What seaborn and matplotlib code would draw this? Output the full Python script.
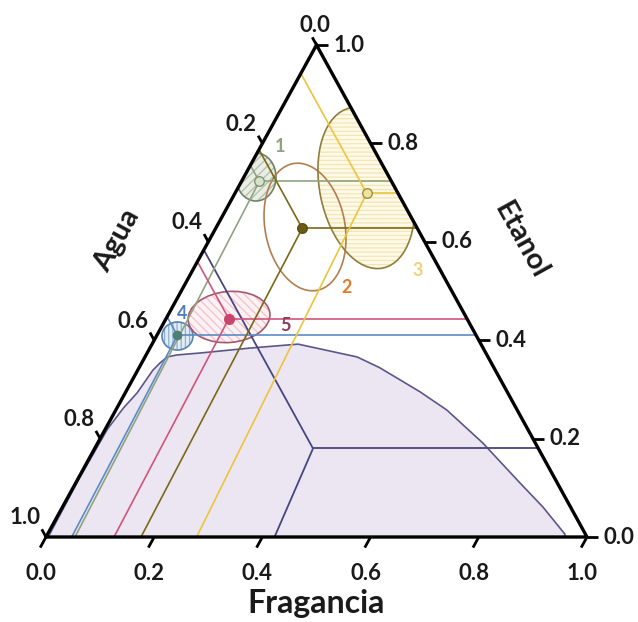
import numpy as np
import pandas as pd
import matplotlib
matplotlib.use("Agg")
import matplotlib.pyplot as plt
import seaborn as sns
from matplotlib.patches import Ellipse, Polygon

# ---------------- data (ternary compositions: F = Fragancia, E = Etanol, W = Agua = 1-F-E)
binodal_F = [0.004, 0.002, 0.004, 0.012, 0.022, 0.028, 0.034, 0.041, 0.057, 0.098,
             0.185, 0.270, 0.392, 0.445, 0.544, 0.612, 0.712, 0.821, 0.888, 0.956, 0.959]
binodal_E = [0.000, 0.120, 0.220, 0.262, 0.293, 0.339, 0.354, 0.366, 0.370, 0.374,
             0.384, 0.392, 0.366, 0.344, 0.295, 0.258, 0.191, 0.110, 0.061, 0.006, 0.000]

point_names = ["1", "2", "3", "4", "5"]
point_F = [0.033, 0.160, 0.2435, 0.038, 0.116]
point_E = [0.7226, 0.6274, 0.6986, 0.4096, 0.4437]
point_F_reading = [0.0536, 0.1756, 0.2784, 0.0475, 0.1257]   # where the Fragancia guide meets the base

tie_F = 0.4036
tie_E = 0.1799
tie_F_reading = 0.4224

ell_F = [0.0223, 0.1637, 0.2377, 0.0388, 0.1147]
ell_E = [0.7317, 0.6301, 0.7093, 0.4085, 0.4472]
ell_w = [0.074, 0.1475, 0.1723, 0.0573, 0.1516]
ell_h = [0.0887, 0.2384, 0.302, 0.0518, 0.0943]
ell_angle = [0, 10.7, 11.6, 0, 5]

label_F = [0.0352, 0.3024, 0.4173, 0.0248, 0.2274]
label_E = [0.7947, 0.508, 0.5407, 0.4533, 0.4289]

tick_values = [0.0, 0.2, 0.4, 0.6, 0.8, 1.0]
tick_labels = ["0.0", "0.2", "0.4", "0.6", "0.8", "1.0"]

# ---------------- styles
line_colors = ["#8fa37f", "#7a6818", "#ebc53c", "#5b8bc6", "#d2537c"]
marker_face = ["#d8e1cd", "#6b5a14", "#efe3a0", "#4f7f74", "#c9456b"]
marker_edge = ["#7f956f", "#5e500f", "#9f8e3b", "#4f7f74", "#c9456b"]
ell_face = ["#e9ede4", "none", "#fdfaec", "#e3ebf3", "#fcf1f3"]
ell_hatchc = ["#b3bea8", None, "#f4e6ae", "#8fb0d2", "#f3c2cb"]
ell_hatch = ["////", None, "----", "||||", "\\\\\\\\"]
ell_edge = ["#6f8263", "#b27e50", "#8e7e3a", "#5583b5", "#a3596d"]
label_colors = ["#8fa37f", "#e07a2a", "#f0d27a", "#4f7fbf", "#8b3c5c"]
tie_color = "#48457f"

sns.set_theme(style="white")
plt.rcParams['font.family'] = ['Lato', 'DejaVu Sans']
plt.rcParams['hatch.linewidth'] = 0.9

K = 492 / 541  # vertical scale of the (slightly stretched) triangle


def tx(F, E):
    return np.asarray(F, dtype=float) + np.asarray(E, dtype=float) / 2


def ty(E):
    return np.asarray(E, dtype=float) * K


fig = plt.figure(figsize=(6.38, 6.22), dpi=100)
ax = fig.add_axes([46 / 638, 85 / 622, 541 / 638, 492 / 622])
ax.set_xlim(0, 1)
ax.set_ylim(0, K)
ax.axis('off')

tri = Polygon([[0, 0], [1, 0], [0.5, K]], closed=True, transform=ax.transData,
              facecolor='none', edgecolor='none')
ax.add_patch(tri)

# binodal region
bx = tx(binodal_F, binodal_E)
by = ty(binodal_E)
ax.fill(bx, by, color="#ebe6f2", zorder=1, lw=0)
bdf = pd.DataFrame({"x": bx, "y": by})
sns.lineplot(data=bdf, x="x", y="y", sort=False, estimator=None, color="#5d5689",
             lw=1.2, ax=ax, zorder=2)

# ellipses
for i in range(5):
    cx = tx(ell_F[i], ell_E[i])
    cy = ty(ell_E[i])
    if ell_hatch[i] is not None:
        e1 = Ellipse((cx, cy), ell_w[i], ell_h[i], angle=ell_angle[i], facecolor=ell_face[i],
                     edgecolor=ell_hatchc[i], hatch=ell_hatch[i], lw=0, zorder=2.2)
        ax.add_patch(e1)
        e1.set_clip_path(tri)
    e2 = Ellipse((cx, cy), ell_w[i], ell_h[i], angle=ell_angle[i], facecolor='none',
                 edgecolor=ell_edge[i], lw=1.2, zorder=2.4)
    ax.add_patch(e2)
    e2.set_clip_path(tri)


def guides(F, E, Fread, color, lw=1.2, z=3):
    # Fragancia guide to base
    ax.plot([tx(F, E), tx(Fread, 0)], [ty(E), 0], color=color, lw=lw, zorder=z,
            solid_capstyle='butt')
    # Etanol guide to right side
    ax.plot([tx(F, E), tx(1 - E, E)], [ty(E), ty(E)], color=color, lw=lw, zorder=z,
            solid_capstyle='butt')
    # Agua guide to left side
    ax.plot([tx(F, E), tx(0, F + E)], [ty(E), ty(F + E)], color=color, lw=lw, zorder=z,
            solid_capstyle='butt')


guides(tie_F, tie_E, tie_F_reading, tie_color, lw=1.3)
order = [3, 0, 4, 1, 2]
for i in order:
    guides(point_F[i], point_E[i], point_F_reading[i], line_colors[i])

pdf = pd.DataFrame({"x": tx(point_F, point_E), "y": ty(point_E), "name": point_names})
for i in range(5):
    sns.scatterplot(data=pdf.iloc[[i]], x="x", y="y", s=48 if i != 3 else 36,
                    color=marker_face[i], edgecolor=marker_edge[i], linewidth=1.0,
                    ax=ax, zorder=5, legend=False)
    ax.text(tx(label_F[i], label_E[i]), ty(label_E[i]), point_names[i], color=label_colors[i],
            fontsize=13, fontweight='bold', ha='center', va='center', zorder=6)

# triangle frame
ax.plot([0, 1, 0.5, 0], [0, 0, K, 0], color='black', lw=2.4, zorder=7, clip_on=False,
        solid_joinstyle='miter')

# ticks
L = 11 / 541
dl = np.array([-0.5, -K]) / np.hypot(0.5, K)   # outward along constant-F direction
dw = np.array([-0.5, K]) / np.hypot(0.5, K)    # outward along constant-W direction
tick_kw = dict(color='black', lw=2.0, zorder=7, clip_on=False, solid_capstyle='butt')
lab_kw = dict(fontsize=16, fontweight='bold', color='#1a1a1a', textcoords='offset pixels',
              annotation_clip=False)
for v, lab in zip(tick_values, tick_labels):
    # bottom (Fragancia)
    x0, y0 = tx(v, 0), 0.0
    ax.plot([x0, x0 + dl[0] * L * 1.1], [y0, y0 + dl[1] * L * 1.1], **tick_kw)
    ax.annotate(lab, (x0, y0), xytext=(-5, -37), ha='center', va='center', **lab_kw)
    # right (Etanol)
    x0, y0 = tx(1 - v, v), ty(v)
    ax.plot([x0, x0 + L], [y0, y0], **tick_kw)
    ax.annotate(lab, (x0, y0), xytext=(17, 0), ha='left', va='center', **lab_kw)
    # left (Agua)
    x0, y0 = tx(0, 1 - v), ty(1 - v)
    ax.plot([x0, x0 + dw[0] * L * 0.8], [y0, y0 + dw[1] * L * 0.8], **tick_kw)
    off = (-2, 20) if v == 0 else (-21, 19)
    ax.annotate(lab, (x0, y0), xytext=off, ha='center', va='center', **lab_kw)

fig.text(316 / 638, 1 - 603 / 622, "Fragancia", fontsize=23, fontweight='bold',
         color='#1a1a1a', ha='center', va='center')
fig.text(117 / 638, 1 - 240 / 622, "Agua", fontsize=21, fontweight='bold',
         color='#1a1a1a', ha='center', va='center', rotation=61)
fig.text(521 / 638, 1 - 240 / 622, "Etanol", fontsize=21, fontweight='bold',
         color='#1a1a1a', ha='center', va='center', rotation=-61)

fig.savefig("out.png", dpi=100)
